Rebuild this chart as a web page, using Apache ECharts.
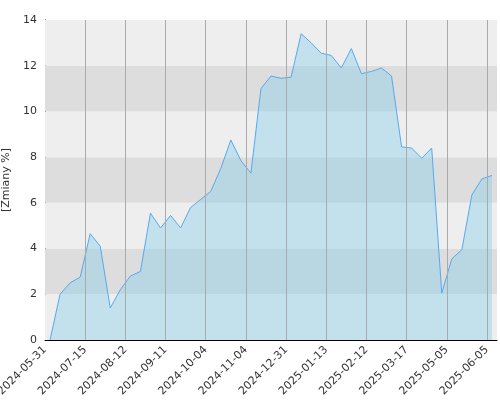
<!DOCTYPE html><html><head><meta charset="utf-8"><script src="https://cdn.jsdelivr.net/npm/echarts@6/dist/echarts.min.js"></script></head><body style="margin:0"><div id="c" style="width:500px;height:400px"></div><script>
const tickLabels=['2024-05-31','2024-07-15','2024-08-12','2024-09-11','2024-10-04','2024-11-04','2024-12-31','2025-01-13','2025-02-12','2025-03-17','2025-05-05','2025-06-05'];
const values=[0,2.0,2.5,2.75,4.65,4.1,1.4,2.2,2.8,3.0,5.55,4.9,5.45,4.9,5.8,6.15,6.5,7.5,8.75,7.85,7.3,11.0,11.55,11.45,11.5,13.4,13.0,12.55,12.45,11.9,12.75,11.65,11.75,11.9,11.55,8.45,8.4,7.95,8.4,2.05,3.55,3.95,6.35,7.05,7.2];
const chart=echarts.init(document.getElementById('c'));
const bands=[];for(let i=0;i<7;i++){bands.push([{yAxis:i*2,itemStyle:{color:i%2?'#dddddd':'#eeeeee'}},{yAxis:i*2+2}]);}
const vlines=[];for(let i=4;i<45;i+=4)vlines.push({xAxis:i});
chart.setOption({animation:false,
grid:{left:45,right:3,top:20,bottom:60,outerBoundsMode:'none',containLabel:false},
xAxis:{type:'value',min:0,max:45,interval:4,axisLine:{lineStyle:{color:'#000'}},axisTick:{show:false},
 splitLine:{show:false},
 axisLabel:{rotate:45,color:'#333',fontSize:11,fontFamily:'DejaVu Sans',formatter:v=>tickLabels[v/4]||''}},
yAxis:{type:'value',min:0,max:14,interval:2,name:'[Zmiany %]',nameLocation:'middle',nameGap:30,nameTextStyle:{color:'#333',fontSize:11,fontFamily:'DejaVu Sans'},
 axisLine:{show:true,lineStyle:{color:'#000'}},axisTick:{show:false},splitLine:{show:false},axisLabel:{color:'#333',fontSize:11,fontFamily:'DejaVu Sans'}},
series:[
 {type:'line',data:[],markArea:{silent:true,data:bands},z:0,
  markLine:{silent:true,symbol:'none',label:{show:false},lineStyle:{color:'#aaaaaa',type:'solid',width:1},data:vlines}},
 {type:'line',data:values.map((v,i)=>[i+0.5,v]),symbol:'none',lineStyle:{color:'#55aaee',width:1},
 areaStyle:{color:'rgba(135,206,235,0.6)'},z:2}]});
</script></body></html>
